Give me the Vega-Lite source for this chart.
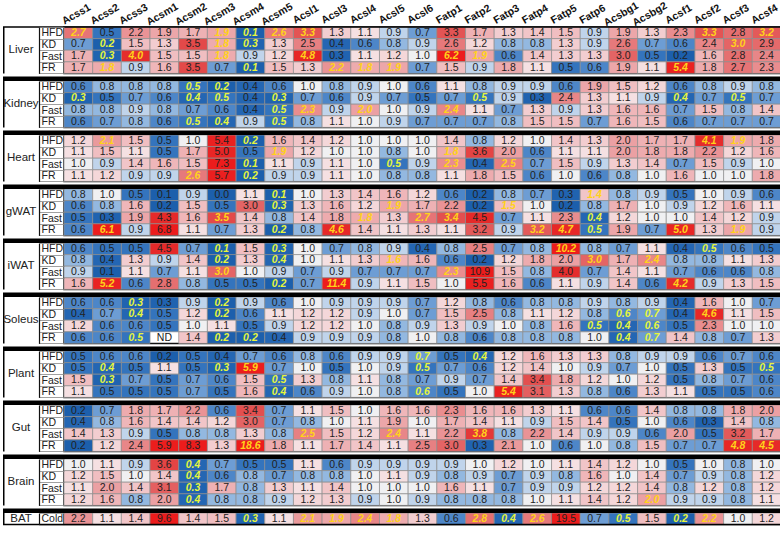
{
"$schema":"https://vega.github.io/schema/vega-lite/v6.json",
"padding":0,
"background":"white",
"data":{"values":[
{"t":"Liver","c":"HFD","g":"Acss1","v":2.7,"s":1},{"t":"Liver","c":"HFD","g":"Acss2","v":0.5},{"t":"Liver","c":"HFD","g":"Acss3","v":2.2},{"t":"Liver","c":"HFD","g":"Acsm1","v":1.9},{"t":"Liver","c":"HFD","g":"Acsm2","v":1.7},{"t":"Liver","c":"HFD","g":"Acsm3","v":1.9,"s":1},{"t":"Liver","c":"HFD","g":"Acsm4","v":0.1,"s":1},{"t":"Liver","c":"HFD","g":"Acsm5","v":2.6,"s":1},{"t":"Liver","c":"HFD","g":"Acsl1","v":3.3,"s":1},{"t":"Liver","c":"HFD","g":"Acsl3","v":1.3},{"t":"Liver","c":"HFD","g":"Acsl4","v":1.1},{"t":"Liver","c":"HFD","g":"Acsl5","v":0.9},{"t":"Liver","c":"HFD","g":"Acsl6","v":0.7},{"t":"Liver","c":"HFD","g":"Fatp1","v":3.3},{"t":"Liver","c":"HFD","g":"Fatp2","v":1.7},{"t":"Liver","c":"HFD","g":"Fatp3","v":1.3},{"t":"Liver","c":"HFD","g":"Fatp4","v":1.4},{"t":"Liver","c":"HFD","g":"Fatp5","v":1.5},{"t":"Liver","c":"HFD","g":"Fatp6","v":0.9},{"t":"Liver","c":"HFD","g":"Acsbg1","v":1.9},{"t":"Liver","c":"HFD","g":"Acsbg2","v":1.3},{"t":"Liver","c":"HFD","g":"Acsf1","v":2.3},{"t":"Liver","c":"HFD","g":"Acsf2","v":3.3,"s":1},{"t":"Liver","c":"HFD","g":"Acsf3","v":2.8},{"t":"Liver","c":"HFD","g":"Acsf4","v":3.2,"s":1},
{"t":"Liver","c":"KD","g":"Acss1","v":0.7},{"t":"Liver","c":"KD","g":"Acss2","v":0.2,"s":1},{"t":"Liver","c":"KD","g":"Acss3","v":1.5},{"t":"Liver","c":"KD","g":"Acsm1","v":1.3},{"t":"Liver","c":"KD","g":"Acsm2","v":3.5},{"t":"Liver","c":"KD","g":"Acsm3","v":1.8,"s":1},{"t":"Liver","c":"KD","g":"Acsm4","v":0.3,"s":1},{"t":"Liver","c":"KD","g":"Acsm5","v":1.3},{"t":"Liver","c":"KD","g":"Acsl1","v":2.5},{"t":"Liver","c":"KD","g":"Acsl3","v":0.4},{"t":"Liver","c":"KD","g":"Acsl4","v":0.6},{"t":"Liver","c":"KD","g":"Acsl5","v":0.8},{"t":"Liver","c":"KD","g":"Acsl6","v":0.9},{"t":"Liver","c":"KD","g":"Fatp1","v":2.6},{"t":"Liver","c":"KD","g":"Fatp2","v":1.2},{"t":"Liver","c":"KD","g":"Fatp3","v":0.8},{"t":"Liver","c":"KD","g":"Fatp4","v":0.8},{"t":"Liver","c":"KD","g":"Fatp5","v":1.3},{"t":"Liver","c":"KD","g":"Fatp6","v":0.9},{"t":"Liver","c":"KD","g":"Acsbg1","v":2.6},{"t":"Liver","c":"KD","g":"Acsbg2","v":0.7},{"t":"Liver","c":"KD","g":"Acsf1","v":0.6},{"t":"Liver","c":"KD","g":"Acsf2","v":2.4},{"t":"Liver","c":"KD","g":"Acsf3","v":3.0,"s":1},{"t":"Liver","c":"KD","g":"Acsf4","v":2.9},
{"t":"Liver","c":"Fast","g":"Acss1","v":1.7},{"t":"Liver","c":"Fast","g":"Acss2","v":0.3,"s":1},{"t":"Liver","c":"Fast","g":"Acss3","v":4.0,"s":1},{"t":"Liver","c":"Fast","g":"Acsm1","v":1.5},{"t":"Liver","c":"Fast","g":"Acsm2","v":1.5},{"t":"Liver","c":"Fast","g":"Acsm3","v":1.8,"s":1},{"t":"Liver","c":"Fast","g":"Acsm4","v":0.9},{"t":"Liver","c":"Fast","g":"Acsm5","v":1.2},{"t":"Liver","c":"Fast","g":"Acsl1","v":4.8,"s":1},{"t":"Liver","c":"Fast","g":"Acsl3","v":0.3},{"t":"Liver","c":"Fast","g":"Acsl4","v":1.1},{"t":"Liver","c":"Fast","g":"Acsl5","v":1.2},{"t":"Liver","c":"Fast","g":"Acsl6","v":1.0},{"t":"Liver","c":"Fast","g":"Fatp1","v":6.2,"s":1},{"t":"Liver","c":"Fast","g":"Fatp2","v":1.9,"s":1},{"t":"Liver","c":"Fast","g":"Fatp3","v":0.6},{"t":"Liver","c":"Fast","g":"Fatp4","v":1.4},{"t":"Liver","c":"Fast","g":"Fatp5","v":1.3},{"t":"Liver","c":"Fast","g":"Fatp6","v":1.3},{"t":"Liver","c":"Fast","g":"Acsbg1","v":3.0},{"t":"Liver","c":"Fast","g":"Acsbg2","v":0.5},{"t":"Liver","c":"Fast","g":"Acsf1","v":0.2},{"t":"Liver","c":"Fast","g":"Acsf2","v":1.6},{"t":"Liver","c":"Fast","g":"Acsf3","v":2.8},{"t":"Liver","c":"Fast","g":"Acsf4","v":2.4},
{"t":"Liver","c":"FR","g":"Acss1","v":1.7},{"t":"Liver","c":"FR","g":"Acss2","v":1.8,"s":1},{"t":"Liver","c":"FR","g":"Acss3","v":0.9},{"t":"Liver","c":"FR","g":"Acsm1","v":1.6},{"t":"Liver","c":"FR","g":"Acsm2","v":3.5},{"t":"Liver","c":"FR","g":"Acsm3","v":0.7},{"t":"Liver","c":"FR","g":"Acsm4","v":0.1,"s":1},{"t":"Liver","c":"FR","g":"Acsm5","v":1.5},{"t":"Liver","c":"FR","g":"Acsl1","v":1.3},{"t":"Liver","c":"FR","g":"Acsl3","v":2.2,"s":1},{"t":"Liver","c":"FR","g":"Acsl4","v":1.8,"s":1},{"t":"Liver","c":"FR","g":"Acsl5","v":1.9,"s":1},{"t":"Liver","c":"FR","g":"Acsl6","v":0.7},{"t":"Liver","c":"FR","g":"Fatp1","v":1.5},{"t":"Liver","c":"FR","g":"Fatp2","v":0.9},{"t":"Liver","c":"FR","g":"Fatp3","v":1.8},{"t":"Liver","c":"FR","g":"Fatp4","v":1.1},{"t":"Liver","c":"FR","g":"Fatp5","v":0.5},{"t":"Liver","c":"FR","g":"Fatp6","v":0.6},{"t":"Liver","c":"FR","g":"Acsbg1","v":1.9},{"t":"Liver","c":"FR","g":"Acsbg2","v":1.1},{"t":"Liver","c":"FR","g":"Acsf1","v":5.4,"s":1},{"t":"Liver","c":"FR","g":"Acsf2","v":1.8},{"t":"Liver","c":"FR","g":"Acsf3","v":2.7},{"t":"Liver","c":"FR","g":"Acsf4","v":2.3},
{"t":"Kidney","c":"HFD","g":"Acss1","v":0.6},{"t":"Kidney","c":"HFD","g":"Acss2","v":0.8},{"t":"Kidney","c":"HFD","g":"Acss3","v":0.8},{"t":"Kidney","c":"HFD","g":"Acsm1","v":0.8},{"t":"Kidney","c":"HFD","g":"Acsm2","v":0.5,"s":1},{"t":"Kidney","c":"HFD","g":"Acsm3","v":0.2,"s":1},{"t":"Kidney","c":"HFD","g":"Acsm4","v":0.4},{"t":"Kidney","c":"HFD","g":"Acsm5","v":0.6},{"t":"Kidney","c":"HFD","g":"Acsl1","v":1.0},{"t":"Kidney","c":"HFD","g":"Acsl3","v":0.8},{"t":"Kidney","c":"HFD","g":"Acsl4","v":0.9},{"t":"Kidney","c":"HFD","g":"Acsl5","v":1.0},{"t":"Kidney","c":"HFD","g":"Acsl6","v":0.6},{"t":"Kidney","c":"HFD","g":"Fatp1","v":1.1},{"t":"Kidney","c":"HFD","g":"Fatp2","v":0.8},{"t":"Kidney","c":"HFD","g":"Fatp3","v":0.9},{"t":"Kidney","c":"HFD","g":"Fatp4","v":0.9},{"t":"Kidney","c":"HFD","g":"Fatp5","v":0.6},{"t":"Kidney","c":"HFD","g":"Fatp6","v":1.9},{"t":"Kidney","c":"HFD","g":"Acsbg1","v":1.5},{"t":"Kidney","c":"HFD","g":"Acsbg2","v":1.2},{"t":"Kidney","c":"HFD","g":"Acsf1","v":0.6},{"t":"Kidney","c":"HFD","g":"Acsf2","v":0.8},{"t":"Kidney","c":"HFD","g":"Acsf3","v":0.9},{"t":"Kidney","c":"HFD","g":"Acsf4","v":0.8},
{"t":"Kidney","c":"KD","g":"Acss1","v":0.3,"s":1},{"t":"Kidney","c":"KD","g":"Acss2","v":0.5},{"t":"Kidney","c":"KD","g":"Acss3","v":0.7},{"t":"Kidney","c":"KD","g":"Acsm1","v":0.6},{"t":"Kidney","c":"KD","g":"Acsm2","v":0.4,"s":1},{"t":"Kidney","c":"KD","g":"Acsm3","v":0.5,"s":1},{"t":"Kidney","c":"KD","g":"Acsm4","v":0.4},{"t":"Kidney","c":"KD","g":"Acsm5","v":0.3,"s":1},{"t":"Kidney","c":"KD","g":"Acsl1","v":0.7},{"t":"Kidney","c":"KD","g":"Acsl3","v":0.6},{"t":"Kidney","c":"KD","g":"Acsl4","v":0.9},{"t":"Kidney","c":"KD","g":"Acsl5","v":0.7},{"t":"Kidney","c":"KD","g":"Acsl6","v":0.5},{"t":"Kidney","c":"KD","g":"Fatp1","v":0.7},{"t":"Kidney","c":"KD","g":"Fatp2","v":0.5,"s":1},{"t":"Kidney","c":"KD","g":"Fatp3","v":0.9},{"t":"Kidney","c":"KD","g":"Fatp4","v":0.3},{"t":"Kidney","c":"KD","g":"Fatp5","v":2.4},{"t":"Kidney","c":"KD","g":"Fatp6","v":1.3},{"t":"Kidney","c":"KD","g":"Acsbg1","v":1.1},{"t":"Kidney","c":"KD","g":"Acsbg2","v":0.9},{"t":"Kidney","c":"KD","g":"Acsf1","v":0.4,"s":1},{"t":"Kidney","c":"KD","g":"Acsf2","v":0.7},{"t":"Kidney","c":"KD","g":"Acsf3","v":0.5,"s":1},{"t":"Kidney","c":"KD","g":"Acsf4","v":0.7},
{"t":"Kidney","c":"Fast","g":"Acss1","v":0.8},{"t":"Kidney","c":"Fast","g":"Acss2","v":0.8},{"t":"Kidney","c":"Fast","g":"Acss3","v":0.9},{"t":"Kidney","c":"Fast","g":"Acsm1","v":0.8},{"t":"Kidney","c":"Fast","g":"Acsm2","v":0.7},{"t":"Kidney","c":"Fast","g":"Acsm3","v":0.6},{"t":"Kidney","c":"Fast","g":"Acsm4","v":0.4},{"t":"Kidney","c":"Fast","g":"Acsm5","v":0.5,"s":1},{"t":"Kidney","c":"Fast","g":"Acsl1","v":2.3,"s":1},{"t":"Kidney","c":"Fast","g":"Acsl3","v":0.9},{"t":"Kidney","c":"Fast","g":"Acsl4","v":2.0,"s":1},{"t":"Kidney","c":"Fast","g":"Acsl5","v":1.0},{"t":"Kidney","c":"Fast","g":"Acsl6","v":0.9},{"t":"Kidney","c":"Fast","g":"Fatp1","v":2.4,"s":1},{"t":"Kidney","c":"Fast","g":"Fatp2","v":1.1},{"t":"Kidney","c":"Fast","g":"Fatp3","v":0.7},{"t":"Kidney","c":"Fast","g":"Fatp4","v":1.3},{"t":"Kidney","c":"Fast","g":"Fatp5","v":0.9},{"t":"Kidney","c":"Fast","g":"Fatp6","v":1.3},{"t":"Kidney","c":"Fast","g":"Acsbg1","v":1.6},{"t":"Kidney","c":"Fast","g":"Acsbg2","v":1.6},{"t":"Kidney","c":"Fast","g":"Acsf1","v":0.7},{"t":"Kidney","c":"Fast","g":"Acsf2","v":1.5},{"t":"Kidney","c":"Fast","g":"Acsf3","v":0.8},{"t":"Kidney","c":"Fast","g":"Acsf4","v":1.4},
{"t":"Kidney","c":"FR","g":"Acss1","v":0.6},{"t":"Kidney","c":"FR","g":"Acss2","v":0.7},{"t":"Kidney","c":"FR","g":"Acss3","v":0.8},{"t":"Kidney","c":"FR","g":"Acsm1","v":0.6},{"t":"Kidney","c":"FR","g":"Acsm2","v":0.5,"s":1},{"t":"Kidney","c":"FR","g":"Acsm3","v":0.4,"s":1},{"t":"Kidney","c":"FR","g":"Acsm4","v":0.9},{"t":"Kidney","c":"FR","g":"Acsm5","v":0.5,"s":1},{"t":"Kidney","c":"FR","g":"Acsl1","v":0.8},{"t":"Kidney","c":"FR","g":"Acsl3","v":1.1},{"t":"Kidney","c":"FR","g":"Acsl4","v":1.0},{"t":"Kidney","c":"FR","g":"Acsl5","v":0.9},{"t":"Kidney","c":"FR","g":"Acsl6","v":0.7},{"t":"Kidney","c":"FR","g":"Fatp1","v":0.7},{"t":"Kidney","c":"FR","g":"Fatp2","v":0.7},{"t":"Kidney","c":"FR","g":"Fatp3","v":0.8},{"t":"Kidney","c":"FR","g":"Fatp4","v":1.5},{"t":"Kidney","c":"FR","g":"Fatp5","v":1.5},{"t":"Kidney","c":"FR","g":"Fatp6","v":0.7},{"t":"Kidney","c":"FR","g":"Acsbg1","v":1.6},{"t":"Kidney","c":"FR","g":"Acsbg2","v":1.5},{"t":"Kidney","c":"FR","g":"Acsf1","v":0.6},{"t":"Kidney","c":"FR","g":"Acsf2","v":0.7},{"t":"Kidney","c":"FR","g":"Acsf3","v":0.7},{"t":"Kidney","c":"FR","g":"Acsf4","v":0.7},
{"t":"Heart","c":"HFD","g":"Acss1","v":1.2},{"t":"Heart","c":"HFD","g":"Acss2","v":2.1,"s":1},{"t":"Heart","c":"HFD","g":"Acss3","v":1.5},{"t":"Heart","c":"HFD","g":"Acsm1","v":0.5},{"t":"Heart","c":"HFD","g":"Acsm2","v":1.0},{"t":"Heart","c":"HFD","g":"Acsm3","v":5.4},{"t":"Heart","c":"HFD","g":"Acsm4","v":0.2,"s":1},{"t":"Heart","c":"HFD","g":"Acsm5","v":1.6},{"t":"Heart","c":"HFD","g":"Acsl1","v":1.4},{"t":"Heart","c":"HFD","g":"Acsl3","v":1.2},{"t":"Heart","c":"HFD","g":"Acsl4","v":1.0},{"t":"Heart","c":"HFD","g":"Acsl5","v":1.0},{"t":"Heart","c":"HFD","g":"Acsl6","v":1.0},{"t":"Heart","c":"HFD","g":"Fatp1","v":1.4},{"t":"Heart","c":"HFD","g":"Fatp2","v":0.8},{"t":"Heart","c":"HFD","g":"Fatp3","v":1.2},{"t":"Heart","c":"HFD","g":"Fatp4","v":1.0},{"t":"Heart","c":"HFD","g":"Fatp5","v":1.4},{"t":"Heart","c":"HFD","g":"Fatp6","v":1.3},{"t":"Heart","c":"HFD","g":"Acsbg1","v":2.0},{"t":"Heart","c":"HFD","g":"Acsbg2","v":1.7},{"t":"Heart","c":"HFD","g":"Acsf1","v":1.7},{"t":"Heart","c":"HFD","g":"Acsf2","v":4.1,"s":1},{"t":"Heart","c":"HFD","g":"Acsf3","v":1.9,"s":1},{"t":"Heart","c":"HFD","g":"Acsf4","v":1.8},
{"t":"Heart","c":"KD","g":"Acss1","v":1.1},{"t":"Heart","c":"KD","g":"Acss2","v":1.5},{"t":"Heart","c":"KD","g":"Acss3","v":1.1},{"t":"Heart","c":"KD","g":"Acsm1","v":0.5},{"t":"Heart","c":"KD","g":"Acsm2","v":1.7},{"t":"Heart","c":"KD","g":"Acsm3","v":5.0},{"t":"Heart","c":"KD","g":"Acsm4","v":0.5},{"t":"Heart","c":"KD","g":"Acsm5","v":1.9,"s":1},{"t":"Heart","c":"KD","g":"Acsl1","v":1.2},{"t":"Heart","c":"KD","g":"Acsl3","v":1.0},{"t":"Heart","c":"KD","g":"Acsl4","v":1.0},{"t":"Heart","c":"KD","g":"Acsl5","v":0.8},{"t":"Heart","c":"KD","g":"Acsl6","v":1.0},{"t":"Heart","c":"KD","g":"Fatp1","v":1.8,"s":1},{"t":"Heart","c":"KD","g":"Fatp2","v":3.6},{"t":"Heart","c":"KD","g":"Fatp3","v":2.0},{"t":"Heart","c":"KD","g":"Fatp4","v":0.6},{"t":"Heart","c":"KD","g":"Fatp5","v":1.1},{"t":"Heart","c":"KD","g":"Fatp6","v":1.1},{"t":"Heart","c":"KD","g":"Acsbg1","v":2.0},{"t":"Heart","c":"KD","g":"Acsbg2","v":1.8},{"t":"Heart","c":"KD","g":"Acsf1","v":1.8},{"t":"Heart","c":"KD","g":"Acsf2","v":2.2},{"t":"Heart","c":"KD","g":"Acsf3","v":1.2},{"t":"Heart","c":"KD","g":"Acsf4","v":1.6},
{"t":"Heart","c":"Fast","g":"Acss1","v":1.0},{"t":"Heart","c":"Fast","g":"Acss2","v":0.9},{"t":"Heart","c":"Fast","g":"Acss3","v":1.4},{"t":"Heart","c":"Fast","g":"Acsm1","v":1.6},{"t":"Heart","c":"Fast","g":"Acsm2","v":1.5},{"t":"Heart","c":"Fast","g":"Acsm3","v":7.3},{"t":"Heart","c":"Fast","g":"Acsm4","v":0.1,"s":1},{"t":"Heart","c":"Fast","g":"Acsm5","v":1.1},{"t":"Heart","c":"Fast","g":"Acsl1","v":0.9},{"t":"Heart","c":"Fast","g":"Acsl3","v":1.1},{"t":"Heart","c":"Fast","g":"Acsl4","v":1.0},{"t":"Heart","c":"Fast","g":"Acsl5","v":0.5,"s":1},{"t":"Heart","c":"Fast","g":"Acsl6","v":0.9},{"t":"Heart","c":"Fast","g":"Fatp1","v":2.3,"s":1},{"t":"Heart","c":"Fast","g":"Fatp2","v":0.4},{"t":"Heart","c":"Fast","g":"Fatp3","v":2.5,"s":1},{"t":"Heart","c":"Fast","g":"Fatp4","v":0.7},{"t":"Heart","c":"Fast","g":"Fatp5","v":1.5},{"t":"Heart","c":"Fast","g":"Fatp6","v":0.9},{"t":"Heart","c":"Fast","g":"Acsbg1","v":1.3},{"t":"Heart","c":"Fast","g":"Acsbg2","v":1.4},{"t":"Heart","c":"Fast","g":"Acsf1","v":0.7},{"t":"Heart","c":"Fast","g":"Acsf2","v":1.5},{"t":"Heart","c":"Fast","g":"Acsf3","v":0.9},{"t":"Heart","c":"Fast","g":"Acsf4","v":1.0},
{"t":"Heart","c":"FR","g":"Acss1","v":1.1},{"t":"Heart","c":"FR","g":"Acss2","v":1.2},{"t":"Heart","c":"FR","g":"Acss3","v":0.9},{"t":"Heart","c":"FR","g":"Acsm1","v":0.9},{"t":"Heart","c":"FR","g":"Acsm2","v":2.6,"s":1},{"t":"Heart","c":"FR","g":"Acsm3","v":5.7},{"t":"Heart","c":"FR","g":"Acsm4","v":0.2,"s":1},{"t":"Heart","c":"FR","g":"Acsm5","v":0.9},{"t":"Heart","c":"FR","g":"Acsl1","v":0.9},{"t":"Heart","c":"FR","g":"Acsl3","v":1.1},{"t":"Heart","c":"FR","g":"Acsl4","v":1.0},{"t":"Heart","c":"FR","g":"Acsl5","v":0.8},{"t":"Heart","c":"FR","g":"Acsl6","v":0.8},{"t":"Heart","c":"FR","g":"Fatp1","v":1.1},{"t":"Heart","c":"FR","g":"Fatp2","v":1.8},{"t":"Heart","c":"FR","g":"Fatp3","v":1.5},{"t":"Heart","c":"FR","g":"Fatp4","v":0.6},{"t":"Heart","c":"FR","g":"Fatp5","v":1.0},{"t":"Heart","c":"FR","g":"Fatp6","v":0.6},{"t":"Heart","c":"FR","g":"Acsbg1","v":0.8},{"t":"Heart","c":"FR","g":"Acsbg2","v":1.0},{"t":"Heart","c":"FR","g":"Acsf1","v":1.6},{"t":"Heart","c":"FR","g":"Acsf2","v":1.0},{"t":"Heart","c":"FR","g":"Acsf3","v":1.0},{"t":"Heart","c":"FR","g":"Acsf4","v":1.8},
{"t":"gWAT","c":"HFD","g":"Acss1","v":0.8},{"t":"gWAT","c":"HFD","g":"Acss2","v":1.0},{"t":"gWAT","c":"HFD","g":"Acss3","v":0.5},{"t":"gWAT","c":"HFD","g":"Acsm1","v":0.1},{"t":"gWAT","c":"HFD","g":"Acsm2","v":0.9},{"t":"gWAT","c":"HFD","g":"Acsm3","v":0.0},{"t":"gWAT","c":"HFD","g":"Acsm4","v":1.1},{"t":"gWAT","c":"HFD","g":"Acsm5","v":0.1,"s":1},{"t":"gWAT","c":"HFD","g":"Acsl1","v":1.0},{"t":"gWAT","c":"HFD","g":"Acsl3","v":1.3},{"t":"gWAT","c":"HFD","g":"Acsl4","v":1.4},{"t":"gWAT","c":"HFD","g":"Acsl5","v":1.6},{"t":"gWAT","c":"HFD","g":"Acsl6","v":1.2},{"t":"gWAT","c":"HFD","g":"Fatp1","v":0.6},{"t":"gWAT","c":"HFD","g":"Fatp2","v":0.2},{"t":"gWAT","c":"HFD","g":"Fatp3","v":0.8},{"t":"gWAT","c":"HFD","g":"Fatp4","v":0.7},{"t":"gWAT","c":"HFD","g":"Fatp5","v":0.3},{"t":"gWAT","c":"HFD","g":"Fatp6","v":1.4,"s":1},{"t":"gWAT","c":"HFD","g":"Acsbg1","v":0.8},{"t":"gWAT","c":"HFD","g":"Acsbg2","v":0.9},{"t":"gWAT","c":"HFD","g":"Acsf1","v":0.5},{"t":"gWAT","c":"HFD","g":"Acsf2","v":1.0},{"t":"gWAT","c":"HFD","g":"Acsf3","v":0.9},{"t":"gWAT","c":"HFD","g":"Acsf4","v":0.6},
{"t":"gWAT","c":"KD","g":"Acss1","v":0.6},{"t":"gWAT","c":"KD","g":"Acss2","v":0.8},{"t":"gWAT","c":"KD","g":"Acss3","v":1.6},{"t":"gWAT","c":"KD","g":"Acsm1","v":0.2},{"t":"gWAT","c":"KD","g":"Acsm2","v":1.5},{"t":"gWAT","c":"KD","g":"Acsm3","v":0.5},{"t":"gWAT","c":"KD","g":"Acsm4","v":3.0},{"t":"gWAT","c":"KD","g":"Acsm5","v":0.3,"s":1},{"t":"gWAT","c":"KD","g":"Acsl1","v":1.3},{"t":"gWAT","c":"KD","g":"Acsl3","v":1.6},{"t":"gWAT","c":"KD","g":"Acsl4","v":1.2},{"t":"gWAT","c":"KD","g":"Acsl5","v":1.9,"s":1},{"t":"gWAT","c":"KD","g":"Acsl6","v":1.7},{"t":"gWAT","c":"KD","g":"Fatp1","v":2.2},{"t":"gWAT","c":"KD","g":"Fatp2","v":0.2},{"t":"gWAT","c":"KD","g":"Fatp3","v":1.5,"s":1},{"t":"gWAT","c":"KD","g":"Fatp4","v":1.0},{"t":"gWAT","c":"KD","g":"Fatp5","v":0.2},{"t":"gWAT","c":"KD","g":"Fatp6","v":0.8},{"t":"gWAT","c":"KD","g":"Acsbg1","v":1.7},{"t":"gWAT","c":"KD","g":"Acsbg2","v":1.0},{"t":"gWAT","c":"KD","g":"Acsf1","v":0.9},{"t":"gWAT","c":"KD","g":"Acsf2","v":1.2},{"t":"gWAT","c":"KD","g":"Acsf3","v":1.6},{"t":"gWAT","c":"KD","g":"Acsf4","v":1.1},
{"t":"gWAT","c":"Fast","g":"Acss1","v":0.5},{"t":"gWAT","c":"Fast","g":"Acss2","v":0.3},{"t":"gWAT","c":"Fast","g":"Acss3","v":1.9},{"t":"gWAT","c":"Fast","g":"Acsm1","v":4.3},{"t":"gWAT","c":"Fast","g":"Acsm2","v":1.6},{"t":"gWAT","c":"Fast","g":"Acsm3","v":3.5,"s":1},{"t":"gWAT","c":"Fast","g":"Acsm4","v":1.4},{"t":"gWAT","c":"Fast","g":"Acsm5","v":0.8},{"t":"gWAT","c":"Fast","g":"Acsl1","v":1.4},{"t":"gWAT","c":"Fast","g":"Acsl3","v":1.8},{"t":"gWAT","c":"Fast","g":"Acsl4","v":1.8,"s":1},{"t":"gWAT","c":"Fast","g":"Acsl5","v":1.3},{"t":"gWAT","c":"Fast","g":"Acsl6","v":2.7,"s":1},{"t":"gWAT","c":"Fast","g":"Fatp1","v":3.4,"s":1},{"t":"gWAT","c":"Fast","g":"Fatp2","v":4.5},{"t":"gWAT","c":"Fast","g":"Fatp3","v":0.7},{"t":"gWAT","c":"Fast","g":"Fatp4","v":1.1},{"t":"gWAT","c":"Fast","g":"Fatp5","v":2.3},{"t":"gWAT","c":"Fast","g":"Fatp6","v":0.4,"s":1},{"t":"gWAT","c":"Fast","g":"Acsbg1","v":1.2},{"t":"gWAT","c":"Fast","g":"Acsbg2","v":1.0},{"t":"gWAT","c":"Fast","g":"Acsf1","v":1.0},{"t":"gWAT","c":"Fast","g":"Acsf2","v":1.4},{"t":"gWAT","c":"Fast","g":"Acsf3","v":1.2},{"t":"gWAT","c":"Fast","g":"Acsf4","v":0.9},
{"t":"gWAT","c":"FR","g":"Acss1","v":0.6},{"t":"gWAT","c":"FR","g":"Acss2","v":6.1,"s":1},{"t":"gWAT","c":"FR","g":"Acss3","v":0.9},{"t":"gWAT","c":"FR","g":"Acsm1","v":6.8},{"t":"gWAT","c":"FR","g":"Acsm2","v":1.1},{"t":"gWAT","c":"FR","g":"Acsm3","v":0.7},{"t":"gWAT","c":"FR","g":"Acsm4","v":1.3},{"t":"gWAT","c":"FR","g":"Acsm5","v":0.2,"s":1},{"t":"gWAT","c":"FR","g":"Acsl1","v":0.8},{"t":"gWAT","c":"FR","g":"Acsl3","v":4.6,"s":1},{"t":"gWAT","c":"FR","g":"Acsl4","v":1.4},{"t":"gWAT","c":"FR","g":"Acsl5","v":1.1},{"t":"gWAT","c":"FR","g":"Acsl6","v":1.3},{"t":"gWAT","c":"FR","g":"Fatp1","v":1.1},{"t":"gWAT","c":"FR","g":"Fatp2","v":3.2},{"t":"gWAT","c":"FR","g":"Fatp3","v":0.9},{"t":"gWAT","c":"FR","g":"Fatp4","v":3.2,"s":1},{"t":"gWAT","c":"FR","g":"Fatp5","v":4.7,"s":1},{"t":"gWAT","c":"FR","g":"Fatp6","v":0.5,"s":1},{"t":"gWAT","c":"FR","g":"Acsbg1","v":1.9},{"t":"gWAT","c":"FR","g":"Acsbg2","v":0.7},{"t":"gWAT","c":"FR","g":"Acsf1","v":5.0,"s":1},{"t":"gWAT","c":"FR","g":"Acsf2","v":1.3},{"t":"gWAT","c":"FR","g":"Acsf3","v":1.9,"s":1},{"t":"gWAT","c":"FR","g":"Acsf4","v":0.9},
{"t":"iWAT","c":"HFD","g":"Acss1","v":0.6},{"t":"iWAT","c":"HFD","g":"Acss2","v":0.5},{"t":"iWAT","c":"HFD","g":"Acss3","v":0.5},{"t":"iWAT","c":"HFD","g":"Acsm1","v":4.5},{"t":"iWAT","c":"HFD","g":"Acsm2","v":0.7},{"t":"iWAT","c":"HFD","g":"Acsm3","v":0.1,"s":1},{"t":"iWAT","c":"HFD","g":"Acsm4","v":1.5},{"t":"iWAT","c":"HFD","g":"Acsm5","v":0.3,"s":1},{"t":"iWAT","c":"HFD","g":"Acsl1","v":1.0},{"t":"iWAT","c":"HFD","g":"Acsl3","v":0.7},{"t":"iWAT","c":"HFD","g":"Acsl4","v":0.8},{"t":"iWAT","c":"HFD","g":"Acsl5","v":0.9},{"t":"iWAT","c":"HFD","g":"Acsl6","v":0.4},{"t":"iWAT","c":"HFD","g":"Fatp1","v":0.8},{"t":"iWAT","c":"HFD","g":"Fatp2","v":2.5},{"t":"iWAT","c":"HFD","g":"Fatp3","v":0.7},{"t":"iWAT","c":"HFD","g":"Fatp4","v":0.8},{"t":"iWAT","c":"HFD","g":"Fatp5","v":10.2,"s":1},{"t":"iWAT","c":"HFD","g":"Fatp6","v":0.8},{"t":"iWAT","c":"HFD","g":"Acsbg1","v":0.7},{"t":"iWAT","c":"HFD","g":"Acsbg2","v":1.1},{"t":"iWAT","c":"HFD","g":"Acsf1","v":0.4},{"t":"iWAT","c":"HFD","g":"Acsf2","v":0.5,"s":1},{"t":"iWAT","c":"HFD","g":"Acsf3","v":0.6},{"t":"iWAT","c":"HFD","g":"Acsf4","v":0.5},
{"t":"iWAT","c":"KD","g":"Acss1","v":0.8},{"t":"iWAT","c":"KD","g":"Acss2","v":0.4},{"t":"iWAT","c":"KD","g":"Acss3","v":1.3},{"t":"iWAT","c":"KD","g":"Acsm1","v":0.9},{"t":"iWAT","c":"KD","g":"Acsm2","v":1.4},{"t":"iWAT","c":"KD","g":"Acsm3","v":0.2,"s":1},{"t":"iWAT","c":"KD","g":"Acsm4","v":1.3},{"t":"iWAT","c":"KD","g":"Acsm5","v":0.4,"s":1},{"t":"iWAT","c":"KD","g":"Acsl1","v":1.0},{"t":"iWAT","c":"KD","g":"Acsl3","v":1.1},{"t":"iWAT","c":"KD","g":"Acsl4","v":1.3},{"t":"iWAT","c":"KD","g":"Acsl5","v":1.6,"s":1},{"t":"iWAT","c":"KD","g":"Acsl6","v":1.6},{"t":"iWAT","c":"KD","g":"Fatp1","v":0.6},{"t":"iWAT","c":"KD","g":"Fatp2","v":0.2},{"t":"iWAT","c":"KD","g":"Fatp3","v":1.2},{"t":"iWAT","c":"KD","g":"Fatp4","v":1.8},{"t":"iWAT","c":"KD","g":"Fatp5","v":2.0},{"t":"iWAT","c":"KD","g":"Fatp6","v":3.0,"s":1},{"t":"iWAT","c":"KD","g":"Acsbg1","v":1.7},{"t":"iWAT","c":"KD","g":"Acsbg2","v":2.4,"s":1},{"t":"iWAT","c":"KD","g":"Acsf1","v":0.8},{"t":"iWAT","c":"KD","g":"Acsf2","v":0.8},{"t":"iWAT","c":"KD","g":"Acsf3","v":1.1},{"t":"iWAT","c":"KD","g":"Acsf4","v":1.3},
{"t":"iWAT","c":"Fast","g":"Acss1","v":0.9},{"t":"iWAT","c":"Fast","g":"Acss2","v":0.1},{"t":"iWAT","c":"Fast","g":"Acss3","v":1.1},{"t":"iWAT","c":"Fast","g":"Acsm1","v":0.7},{"t":"iWAT","c":"Fast","g":"Acsm2","v":1.1},{"t":"iWAT","c":"Fast","g":"Acsm3","v":3.0,"s":1},{"t":"iWAT","c":"Fast","g":"Acsm4","v":1.0},{"t":"iWAT","c":"Fast","g":"Acsm5","v":0.9},{"t":"iWAT","c":"Fast","g":"Acsl1","v":0.7},{"t":"iWAT","c":"Fast","g":"Acsl3","v":0.9},{"t":"iWAT","c":"Fast","g":"Acsl4","v":0.7},{"t":"iWAT","c":"Fast","g":"Acsl5","v":0.7},{"t":"iWAT","c":"Fast","g":"Acsl6","v":0.7},{"t":"iWAT","c":"Fast","g":"Fatp1","v":2.3,"s":1},{"t":"iWAT","c":"Fast","g":"Fatp2","v":10.9},{"t":"iWAT","c":"Fast","g":"Fatp3","v":1.5},{"t":"iWAT","c":"Fast","g":"Fatp4","v":0.8},{"t":"iWAT","c":"Fast","g":"Fatp5","v":4.0},{"t":"iWAT","c":"Fast","g":"Fatp6","v":0.7},{"t":"iWAT","c":"Fast","g":"Acsbg1","v":1.4},{"t":"iWAT","c":"Fast","g":"Acsbg2","v":1.1},{"t":"iWAT","c":"Fast","g":"Acsf1","v":0.7},{"t":"iWAT","c":"Fast","g":"Acsf2","v":0.6},{"t":"iWAT","c":"Fast","g":"Acsf3","v":0.6},{"t":"iWAT","c":"Fast","g":"Acsf4","v":0.8},
{"t":"iWAT","c":"FR","g":"Acss1","v":1.6},{"t":"iWAT","c":"FR","g":"Acss2","v":5.2,"s":1},{"t":"iWAT","c":"FR","g":"Acss3","v":0.6},{"t":"iWAT","c":"FR","g":"Acsm1","v":2.8},{"t":"iWAT","c":"FR","g":"Acsm2","v":0.8},{"t":"iWAT","c":"FR","g":"Acsm3","v":0.5},{"t":"iWAT","c":"FR","g":"Acsm4","v":0.5},{"t":"iWAT","c":"FR","g":"Acsm5","v":0.2,"s":1},{"t":"iWAT","c":"FR","g":"Acsl1","v":0.7},{"t":"iWAT","c":"FR","g":"Acsl3","v":11.4,"s":1},{"t":"iWAT","c":"FR","g":"Acsl4","v":0.9},{"t":"iWAT","c":"FR","g":"Acsl5","v":1.1},{"t":"iWAT","c":"FR","g":"Acsl6","v":1.5},{"t":"iWAT","c":"FR","g":"Fatp1","v":1.0},{"t":"iWAT","c":"FR","g":"Fatp2","v":5.5},{"t":"iWAT","c":"FR","g":"Fatp3","v":1.6},{"t":"iWAT","c":"FR","g":"Fatp4","v":0.6},{"t":"iWAT","c":"FR","g":"Fatp5","v":1.1},{"t":"iWAT","c":"FR","g":"Fatp6","v":0.9},{"t":"iWAT","c":"FR","g":"Acsbg1","v":1.4},{"t":"iWAT","c":"FR","g":"Acsbg2","v":0.6},{"t":"iWAT","c":"FR","g":"Acsf1","v":4.2,"s":1},{"t":"iWAT","c":"FR","g":"Acsf2","v":0.9},{"t":"iWAT","c":"FR","g":"Acsf3","v":1.3},{"t":"iWAT","c":"FR","g":"Acsf4","v":1.5},
{"t":"Soleus","c":"HFD","g":"Acss1","v":0.6},{"t":"Soleus","c":"HFD","g":"Acss2","v":0.6},{"t":"Soleus","c":"HFD","g":"Acss3","v":0.3,"s":1},{"t":"Soleus","c":"HFD","g":"Acsm1","v":0.3},{"t":"Soleus","c":"HFD","g":"Acsm2","v":0.9},{"t":"Soleus","c":"HFD","g":"Acsm3","v":0.2,"s":1},{"t":"Soleus","c":"HFD","g":"Acsm4","v":0.9},{"t":"Soleus","c":"HFD","g":"Acsm5","v":0.6},{"t":"Soleus","c":"HFD","g":"Acsl1","v":1.0},{"t":"Soleus","c":"HFD","g":"Acsl3","v":0.9},{"t":"Soleus","c":"HFD","g":"Acsl4","v":0.9},{"t":"Soleus","c":"HFD","g":"Acsl5","v":0.9},{"t":"Soleus","c":"HFD","g":"Acsl6","v":0.7},{"t":"Soleus","c":"HFD","g":"Fatp1","v":1.2},{"t":"Soleus","c":"HFD","g":"Fatp2","v":0.8},{"t":"Soleus","c":"HFD","g":"Fatp3","v":0.6},{"t":"Soleus","c":"HFD","g":"Fatp4","v":0.8},{"t":"Soleus","c":"HFD","g":"Fatp5","v":0.8},{"t":"Soleus","c":"HFD","g":"Fatp6","v":0.9},{"t":"Soleus","c":"HFD","g":"Acsbg1","v":0.8},{"t":"Soleus","c":"HFD","g":"Acsbg2","v":0.9},{"t":"Soleus","c":"HFD","g":"Acsf1","v":0.4},{"t":"Soleus","c":"HFD","g":"Acsf2","v":1.6},{"t":"Soleus","c":"HFD","g":"Acsf3","v":1.0},{"t":"Soleus","c":"HFD","g":"Acsf4","v":0.7},
{"t":"Soleus","c":"KD","g":"Acss1","v":0.4},{"t":"Soleus","c":"KD","g":"Acss2","v":0.7},{"t":"Soleus","c":"KD","g":"Acss3","v":0.4,"s":1},{"t":"Soleus","c":"KD","g":"Acsm1","v":0.5},{"t":"Soleus","c":"KD","g":"Acsm2","v":1.2},{"t":"Soleus","c":"KD","g":"Acsm3","v":0.2,"s":1},{"t":"Soleus","c":"KD","g":"Acsm4","v":0.6},{"t":"Soleus","c":"KD","g":"Acsm5","v":1.1},{"t":"Soleus","c":"KD","g":"Acsl1","v":1.2},{"t":"Soleus","c":"KD","g":"Acsl3","v":1.2},{"t":"Soleus","c":"KD","g":"Acsl4","v":0.9},{"t":"Soleus","c":"KD","g":"Acsl5","v":1.0},{"t":"Soleus","c":"KD","g":"Acsl6","v":0.7},{"t":"Soleus","c":"KD","g":"Fatp1","v":1.5},{"t":"Soleus","c":"KD","g":"Fatp2","v":2.5},{"t":"Soleus","c":"KD","g":"Fatp3","v":0.8},{"t":"Soleus","c":"KD","g":"Fatp4","v":1.1},{"t":"Soleus","c":"KD","g":"Fatp5","v":1.2},{"t":"Soleus","c":"KD","g":"Fatp6","v":0.8},{"t":"Soleus","c":"KD","g":"Acsbg1","v":0.6,"s":1},{"t":"Soleus","c":"KD","g":"Acsbg2","v":0.7,"s":1},{"t":"Soleus","c":"KD","g":"Acsf1","v":0.4},{"t":"Soleus","c":"KD","g":"Acsf2","v":4.6,"s":1},{"t":"Soleus","c":"KD","g":"Acsf3","v":1.1},{"t":"Soleus","c":"KD","g":"Acsf4","v":1.5},
{"t":"Soleus","c":"Fast","g":"Acss1","v":1.2},{"t":"Soleus","c":"Fast","g":"Acss2","v":0.6},{"t":"Soleus","c":"Fast","g":"Acss3","v":0.6},{"t":"Soleus","c":"Fast","g":"Acsm1","v":0.5},{"t":"Soleus","c":"Fast","g":"Acsm2","v":1.0},{"t":"Soleus","c":"Fast","g":"Acsm3","v":1.1},{"t":"Soleus","c":"Fast","g":"Acsm4","v":0.5},{"t":"Soleus","c":"Fast","g":"Acsm5","v":0.9},{"t":"Soleus","c":"Fast","g":"Acsl1","v":1.2},{"t":"Soleus","c":"Fast","g":"Acsl3","v":1.2},{"t":"Soleus","c":"Fast","g":"Acsl4","v":1.0},{"t":"Soleus","c":"Fast","g":"Acsl5","v":0.8},{"t":"Soleus","c":"Fast","g":"Acsl6","v":0.9},{"t":"Soleus","c":"Fast","g":"Fatp1","v":1.3},{"t":"Soleus","c":"Fast","g":"Fatp2","v":0.9},{"t":"Soleus","c":"Fast","g":"Fatp3","v":1.0},{"t":"Soleus","c":"Fast","g":"Fatp4","v":0.8},{"t":"Soleus","c":"Fast","g":"Fatp5","v":1.6},{"t":"Soleus","c":"Fast","g":"Fatp6","v":0.5,"s":1},{"t":"Soleus","c":"Fast","g":"Acsbg1","v":0.4,"s":1},{"t":"Soleus","c":"Fast","g":"Acsbg2","v":0.6,"s":1},{"t":"Soleus","c":"Fast","g":"Acsf1","v":0.5},{"t":"Soleus","c":"Fast","g":"Acsf2","v":2.3},{"t":"Soleus","c":"Fast","g":"Acsf3","v":1.0},{"t":"Soleus","c":"Fast","g":"Acsf4","v":1.0},
{"t":"Soleus","c":"FR","g":"Acss1","v":0.6},{"t":"Soleus","c":"FR","g":"Acss2","v":0.6},{"t":"Soleus","c":"FR","g":"Acss3","v":0.5,"s":1},{"t":"Soleus","c":"FR","g":"Acsm1","v":null},{"t":"Soleus","c":"FR","g":"Acsm2","v":1.4},{"t":"Soleus","c":"FR","g":"Acsm3","v":0.2,"s":1},{"t":"Soleus","c":"FR","g":"Acsm4","v":0.2,"s":1},{"t":"Soleus","c":"FR","g":"Acsm5","v":0.4},{"t":"Soleus","c":"FR","g":"Acsl1","v":0.9},{"t":"Soleus","c":"FR","g":"Acsl3","v":0.9},{"t":"Soleus","c":"FR","g":"Acsl4","v":0.9},{"t":"Soleus","c":"FR","g":"Acsl5","v":0.8},{"t":"Soleus","c":"FR","g":"Acsl6","v":1.0},{"t":"Soleus","c":"FR","g":"Fatp1","v":0.8},{"t":"Soleus","c":"FR","g":"Fatp2","v":0.6},{"t":"Soleus","c":"FR","g":"Fatp3","v":0.8},{"t":"Soleus","c":"FR","g":"Fatp4","v":0.8},{"t":"Soleus","c":"FR","g":"Fatp5","v":0.8},{"t":"Soleus","c":"FR","g":"Fatp6","v":1.0},{"t":"Soleus","c":"FR","g":"Acsbg1","v":0.4,"s":1},{"t":"Soleus","c":"FR","g":"Acsbg2","v":0.7,"s":1},{"t":"Soleus","c":"FR","g":"Acsf1","v":1.4},{"t":"Soleus","c":"FR","g":"Acsf2","v":0.8},{"t":"Soleus","c":"FR","g":"Acsf3","v":0.7},{"t":"Soleus","c":"FR","g":"Acsf4","v":1.3},
{"t":"Plant","c":"HFD","g":"Acss1","v":0.5},{"t":"Plant","c":"HFD","g":"Acss2","v":0.6},{"t":"Plant","c":"HFD","g":"Acss3","v":0.6},{"t":"Plant","c":"HFD","g":"Acsm1","v":0.2},{"t":"Plant","c":"HFD","g":"Acsm2","v":0.5},{"t":"Plant","c":"HFD","g":"Acsm3","v":0.4},{"t":"Plant","c":"HFD","g":"Acsm4","v":0.7},{"t":"Plant","c":"HFD","g":"Acsm5","v":0.6},{"t":"Plant","c":"HFD","g":"Acsl1","v":0.8},{"t":"Plant","c":"HFD","g":"Acsl3","v":0.6},{"t":"Plant","c":"HFD","g":"Acsl4","v":0.9},{"t":"Plant","c":"HFD","g":"Acsl5","v":0.9},{"t":"Plant","c":"HFD","g":"Acsl6","v":0.7,"s":1},{"t":"Plant","c":"HFD","g":"Fatp1","v":0.5},{"t":"Plant","c":"HFD","g":"Fatp2","v":0.4,"s":1},{"t":"Plant","c":"HFD","g":"Fatp3","v":1.2},{"t":"Plant","c":"HFD","g":"Fatp4","v":1.6},{"t":"Plant","c":"HFD","g":"Fatp5","v":1.3},{"t":"Plant","c":"HFD","g":"Fatp6","v":1.3},{"t":"Plant","c":"HFD","g":"Acsbg1","v":0.8},{"t":"Plant","c":"HFD","g":"Acsbg2","v":0.9},{"t":"Plant","c":"HFD","g":"Acsf1","v":0.9},{"t":"Plant","c":"HFD","g":"Acsf2","v":0.6},{"t":"Plant","c":"HFD","g":"Acsf3","v":0.7},{"t":"Plant","c":"HFD","g":"Acsf4","v":0.6},
{"t":"Plant","c":"KD","g":"Acss1","v":0.5},{"t":"Plant","c":"KD","g":"Acss2","v":0.4,"s":1},{"t":"Plant","c":"KD","g":"Acss3","v":0.5},{"t":"Plant","c":"KD","g":"Acsm1","v":1.1},{"t":"Plant","c":"KD","g":"Acsm2","v":0.5},{"t":"Plant","c":"KD","g":"Acsm3","v":0.3,"s":1},{"t":"Plant","c":"KD","g":"Acsm4","v":5.9,"s":1},{"t":"Plant","c":"KD","g":"Acsm5","v":0.7},{"t":"Plant","c":"KD","g":"Acsl1","v":1.0},{"t":"Plant","c":"KD","g":"Acsl3","v":0.5},{"t":"Plant","c":"KD","g":"Acsl4","v":1.0},{"t":"Plant","c":"KD","g":"Acsl5","v":0.9},{"t":"Plant","c":"KD","g":"Acsl6","v":0.5,"s":1},{"t":"Plant","c":"KD","g":"Fatp1","v":0.7},{"t":"Plant","c":"KD","g":"Fatp2","v":0.6},{"t":"Plant","c":"KD","g":"Fatp3","v":1.2},{"t":"Plant","c":"KD","g":"Fatp4","v":1.4},{"t":"Plant","c":"KD","g":"Fatp5","v":1.0},{"t":"Plant","c":"KD","g":"Fatp6","v":0.9},{"t":"Plant","c":"KD","g":"Acsbg1","v":0.7},{"t":"Plant","c":"KD","g":"Acsbg2","v":1.0},{"t":"Plant","c":"KD","g":"Acsf1","v":0.5},{"t":"Plant","c":"KD","g":"Acsf2","v":1.3},{"t":"Plant","c":"KD","g":"Acsf3","v":0.5},{"t":"Plant","c":"KD","g":"Acsf4","v":0.5,"s":1},
{"t":"Plant","c":"Fast","g":"Acss1","v":1.5},{"t":"Plant","c":"Fast","g":"Acss2","v":0.3,"s":1},{"t":"Plant","c":"Fast","g":"Acss3","v":0.7},{"t":"Plant","c":"Fast","g":"Acsm1","v":0.5},{"t":"Plant","c":"Fast","g":"Acsm2","v":0.7},{"t":"Plant","c":"Fast","g":"Acsm3","v":0.6},{"t":"Plant","c":"Fast","g":"Acsm4","v":1.5},{"t":"Plant","c":"Fast","g":"Acsm5","v":0.5,"s":1},{"t":"Plant","c":"Fast","g":"Acsl1","v":1.3},{"t":"Plant","c":"Fast","g":"Acsl3","v":0.8},{"t":"Plant","c":"Fast","g":"Acsl4","v":1.1},{"t":"Plant","c":"Fast","g":"Acsl5","v":0.8},{"t":"Plant","c":"Fast","g":"Acsl6","v":0.7},{"t":"Plant","c":"Fast","g":"Fatp1","v":0.9},{"t":"Plant","c":"Fast","g":"Fatp2","v":0.7},{"t":"Plant","c":"Fast","g":"Fatp3","v":1.4},{"t":"Plant","c":"Fast","g":"Fatp4","v":3.4},{"t":"Plant","c":"Fast","g":"Fatp5","v":1.8},{"t":"Plant","c":"Fast","g":"Fatp6","v":1.2},{"t":"Plant","c":"Fast","g":"Acsbg1","v":1.0},{"t":"Plant","c":"Fast","g":"Acsbg2","v":1.2},{"t":"Plant","c":"Fast","g":"Acsf1","v":0.5},{"t":"Plant","c":"Fast","g":"Acsf2","v":0.8},{"t":"Plant","c":"Fast","g":"Acsf3","v":0.7},{"t":"Plant","c":"Fast","g":"Acsf4","v":0.6},
{"t":"Plant","c":"FR","g":"Acss1","v":1.1},{"t":"Plant","c":"FR","g":"Acss2","v":0.5},{"t":"Plant","c":"FR","g":"Acss3","v":0.5},{"t":"Plant","c":"FR","g":"Acsm1","v":0.5},{"t":"Plant","c":"FR","g":"Acsm2","v":0.7},{"t":"Plant","c":"FR","g":"Acsm3","v":0.5},{"t":"Plant","c":"FR","g":"Acsm4","v":1.6},{"t":"Plant","c":"FR","g":"Acsm5","v":0.4,"s":1},{"t":"Plant","c":"FR","g":"Acsl1","v":0.6},{"t":"Plant","c":"FR","g":"Acsl3","v":0.9},{"t":"Plant","c":"FR","g":"Acsl4","v":1.0},{"t":"Plant","c":"FR","g":"Acsl5","v":0.8},{"t":"Plant","c":"FR","g":"Acsl6","v":0.6,"s":1},{"t":"Plant","c":"FR","g":"Fatp1","v":0.5},{"t":"Plant","c":"FR","g":"Fatp2","v":1.0},{"t":"Plant","c":"FR","g":"Fatp3","v":5.4,"s":1},{"t":"Plant","c":"FR","g":"Fatp4","v":3.1},{"t":"Plant","c":"FR","g":"Fatp5","v":1.3},{"t":"Plant","c":"FR","g":"Fatp6","v":0.8},{"t":"Plant","c":"FR","g":"Acsbg1","v":0.6},{"t":"Plant","c":"FR","g":"Acsbg2","v":1.3},{"t":"Plant","c":"FR","g":"Acsf1","v":1.1},{"t":"Plant","c":"FR","g":"Acsf2","v":0.5},{"t":"Plant","c":"FR","g":"Acsf3","v":0.5},{"t":"Plant","c":"FR","g":"Acsf4","v":0.6},
{"t":"Gut","c":"HFD","g":"Acss1","v":0.2},{"t":"Gut","c":"HFD","g":"Acss2","v":0.7},{"t":"Gut","c":"HFD","g":"Acss3","v":1.8},{"t":"Gut","c":"HFD","g":"Acsm1","v":1.7},{"t":"Gut","c":"HFD","g":"Acsm2","v":2.2},{"t":"Gut","c":"HFD","g":"Acsm3","v":0.6},{"t":"Gut","c":"HFD","g":"Acsm4","v":3.4},{"t":"Gut","c":"HFD","g":"Acsm5","v":0.7},{"t":"Gut","c":"HFD","g":"Acsl1","v":1.1},{"t":"Gut","c":"HFD","g":"Acsl3","v":1.5},{"t":"Gut","c":"HFD","g":"Acsl4","v":1.0},{"t":"Gut","c":"HFD","g":"Acsl5","v":1.6},{"t":"Gut","c":"HFD","g":"Acsl6","v":1.6},{"t":"Gut","c":"HFD","g":"Fatp1","v":2.3},{"t":"Gut","c":"HFD","g":"Fatp2","v":1.6},{"t":"Gut","c":"HFD","g":"Fatp3","v":1.6},{"t":"Gut","c":"HFD","g":"Fatp4","v":1.3},{"t":"Gut","c":"HFD","g":"Fatp5","v":1.1},{"t":"Gut","c":"HFD","g":"Fatp6","v":0.6},{"t":"Gut","c":"HFD","g":"Acsbg1","v":0.6},{"t":"Gut","c":"HFD","g":"Acsbg2","v":1.4},{"t":"Gut","c":"HFD","g":"Acsf1","v":0.8},{"t":"Gut","c":"HFD","g":"Acsf2","v":0.8},{"t":"Gut","c":"HFD","g":"Acsf3","v":1.8},{"t":"Gut","c":"HFD","g":"Acsf4","v":2.0},
{"t":"Gut","c":"KD","g":"Acss1","v":0.4},{"t":"Gut","c":"KD","g":"Acss2","v":0.8},{"t":"Gut","c":"KD","g":"Acss3","v":1.6},{"t":"Gut","c":"KD","g":"Acsm1","v":1.4},{"t":"Gut","c":"KD","g":"Acsm2","v":1.4},{"t":"Gut","c":"KD","g":"Acsm3","v":1.2},{"t":"Gut","c":"KD","g":"Acsm4","v":3.0},{"t":"Gut","c":"KD","g":"Acsm5","v":0.7},{"t":"Gut","c":"KD","g":"Acsl1","v":0.8},{"t":"Gut","c":"KD","g":"Acsl3","v":1.0},{"t":"Gut","c":"KD","g":"Acsl4","v":1.1},{"t":"Gut","c":"KD","g":"Acsl5","v":1.9},{"t":"Gut","c":"KD","g":"Acsl6","v":1.0},{"t":"Gut","c":"KD","g":"Fatp1","v":1.7},{"t":"Gut","c":"KD","g":"Fatp2","v":1.4},{"t":"Gut","c":"KD","g":"Fatp3","v":1.1},{"t":"Gut","c":"KD","g":"Fatp4","v":0.9},{"t":"Gut","c":"KD","g":"Fatp5","v":1.5},{"t":"Gut","c":"KD","g":"Fatp6","v":1.4},{"t":"Gut","c":"KD","g":"Acsbg1","v":0.5},{"t":"Gut","c":"KD","g":"Acsbg2","v":1.0},{"t":"Gut","c":"KD","g":"Acsf1","v":0.6},{"t":"Gut","c":"KD","g":"Acsf2","v":0.3},{"t":"Gut","c":"KD","g":"Acsf3","v":1.4},{"t":"Gut","c":"KD","g":"Acsf4","v":0.8},
{"t":"Gut","c":"Fast","g":"Acss1","v":1.4},{"t":"Gut","c":"Fast","g":"Acss2","v":1.3},{"t":"Gut","c":"Fast","g":"Acss3","v":0.9},{"t":"Gut","c":"Fast","g":"Acsm1","v":0.5},{"t":"Gut","c":"Fast","g":"Acsm2","v":0.8},{"t":"Gut","c":"Fast","g":"Acsm3","v":0.8},{"t":"Gut","c":"Fast","g":"Acsm4","v":1.3},{"t":"Gut","c":"Fast","g":"Acsm5","v":0.8},{"t":"Gut","c":"Fast","g":"Acsl1","v":2.5,"s":1},{"t":"Gut","c":"Fast","g":"Acsl3","v":1.5},{"t":"Gut","c":"Fast","g":"Acsl4","v":1.2},{"t":"Gut","c":"Fast","g":"Acsl5","v":2.4,"s":1},{"t":"Gut","c":"Fast","g":"Acsl6","v":1.1},{"t":"Gut","c":"Fast","g":"Fatp1","v":2.2},{"t":"Gut","c":"Fast","g":"Fatp2","v":3.8,"s":1},{"t":"Gut","c":"Fast","g":"Fatp3","v":0.8},{"t":"Gut","c":"Fast","g":"Fatp4","v":2.2},{"t":"Gut","c":"Fast","g":"Fatp5","v":1.4},{"t":"Gut","c":"Fast","g":"Fatp6","v":0.9},{"t":"Gut","c":"Fast","g":"Acsbg1","v":0.9},{"t":"Gut","c":"Fast","g":"Acsbg2","v":0.6},{"t":"Gut","c":"Fast","g":"Acsf1","v":2.0},{"t":"Gut","c":"Fast","g":"Acsf2","v":0.5},{"t":"Gut","c":"Fast","g":"Acsf3","v":3.2},{"t":"Gut","c":"Fast","g":"Acsf4","v":1.7},
{"t":"Gut","c":"FR","g":"Acss1","v":0.2},{"t":"Gut","c":"FR","g":"Acss2","v":1.2},{"t":"Gut","c":"FR","g":"Acss3","v":2.4},{"t":"Gut","c":"FR","g":"Acsm1","v":5.9},{"t":"Gut","c":"FR","g":"Acsm2","v":8.3},{"t":"Gut","c":"FR","g":"Acsm3","v":1.3},{"t":"Gut","c":"FR","g":"Acsm4","v":18.6,"s":1},{"t":"Gut","c":"FR","g":"Acsm5","v":1.8},{"t":"Gut","c":"FR","g":"Acsl1","v":1.1},{"t":"Gut","c":"FR","g":"Acsl3","v":1.7},{"t":"Gut","c":"FR","g":"Acsl4","v":1.4},{"t":"Gut","c":"FR","g":"Acsl5","v":1.1},{"t":"Gut","c":"FR","g":"Acsl6","v":2.5},{"t":"Gut","c":"FR","g":"Fatp1","v":3.0},{"t":"Gut","c":"FR","g":"Fatp2","v":0.3},{"t":"Gut","c":"FR","g":"Fatp3","v":2.1},{"t":"Gut","c":"FR","g":"Fatp4","v":1.0},{"t":"Gut","c":"FR","g":"Fatp5","v":0.6},{"t":"Gut","c":"FR","g":"Fatp6","v":1.0},{"t":"Gut","c":"FR","g":"Acsbg1","v":0.8},{"t":"Gut","c":"FR","g":"Acsbg2","v":1.5},{"t":"Gut","c":"FR","g":"Acsf1","v":0.7},{"t":"Gut","c":"FR","g":"Acsf2","v":0.7},{"t":"Gut","c":"FR","g":"Acsf3","v":4.8,"s":1},{"t":"Gut","c":"FR","g":"Acsf4","v":4.5,"s":1},
{"t":"Brain","c":"HFD","g":"Acss1","v":1.0},{"t":"Brain","c":"HFD","g":"Acss2","v":1.1},{"t":"Brain","c":"HFD","g":"Acss3","v":0.9},{"t":"Brain","c":"HFD","g":"Acsm1","v":3.6},{"t":"Brain","c":"HFD","g":"Acsm2","v":0.4,"s":1},{"t":"Brain","c":"HFD","g":"Acsm3","v":0.7},{"t":"Brain","c":"HFD","g":"Acsm4","v":0.5},{"t":"Brain","c":"HFD","g":"Acsm5","v":0.5},{"t":"Brain","c":"HFD","g":"Acsl1","v":1.1},{"t":"Brain","c":"HFD","g":"Acsl3","v":0.6},{"t":"Brain","c":"HFD","g":"Acsl4","v":0.9},{"t":"Brain","c":"HFD","g":"Acsl5","v":0.9},{"t":"Brain","c":"HFD","g":"Acsl6","v":0.9},{"t":"Brain","c":"HFD","g":"Fatp1","v":0.9},{"t":"Brain","c":"HFD","g":"Fatp2","v":1.0},{"t":"Brain","c":"HFD","g":"Fatp3","v":1.2},{"t":"Brain","c":"HFD","g":"Fatp4","v":1.0},{"t":"Brain","c":"HFD","g":"Fatp5","v":1.1},{"t":"Brain","c":"HFD","g":"Fatp6","v":1.4},{"t":"Brain","c":"HFD","g":"Acsbg1","v":1.2},{"t":"Brain","c":"HFD","g":"Acsbg2","v":1.0},{"t":"Brain","c":"HFD","g":"Acsf1","v":0.5},{"t":"Brain","c":"HFD","g":"Acsf2","v":1.0},{"t":"Brain","c":"HFD","g":"Acsf3","v":0.8},{"t":"Brain","c":"HFD","g":"Acsf4","v":1.0},
{"t":"Brain","c":"KD","g":"Acss1","v":1.2},{"t":"Brain","c":"KD","g":"Acss2","v":1.5},{"t":"Brain","c":"KD","g":"Acss3","v":1.0},{"t":"Brain","c":"KD","g":"Acsm1","v":1.4},{"t":"Brain","c":"KD","g":"Acsm2","v":0.4,"s":1},{"t":"Brain","c":"KD","g":"Acsm3","v":0.6},{"t":"Brain","c":"KD","g":"Acsm4","v":0.8},{"t":"Brain","c":"KD","g":"Acsm5","v":0.7},{"t":"Brain","c":"KD","g":"Acsl1","v":0.8},{"t":"Brain","c":"KD","g":"Acsl3","v":0.8},{"t":"Brain","c":"KD","g":"Acsl4","v":1.0},{"t":"Brain","c":"KD","g":"Acsl5","v":1.1},{"t":"Brain","c":"KD","g":"Acsl6","v":0.9},{"t":"Brain","c":"KD","g":"Fatp1","v":0.8},{"t":"Brain","c":"KD","g":"Fatp2","v":0.9},{"t":"Brain","c":"KD","g":"Fatp3","v":0.7},{"t":"Brain","c":"KD","g":"Fatp4","v":0.9},{"t":"Brain","c":"KD","g":"Fatp5","v":0.8},{"t":"Brain","c":"KD","g":"Fatp6","v":1.6},{"t":"Brain","c":"KD","g":"Acsbg1","v":1.0},{"t":"Brain","c":"KD","g":"Acsbg2","v":1.4},{"t":"Brain","c":"KD","g":"Acsf1","v":0.7},{"t":"Brain","c":"KD","g":"Acsf2","v":0.9},{"t":"Brain","c":"KD","g":"Acsf3","v":0.8},{"t":"Brain","c":"KD","g":"Acsf4","v":1.2},
{"t":"Brain","c":"Fast","g":"Acss1","v":1.1},{"t":"Brain","c":"Fast","g":"Acss2","v":2.0},{"t":"Brain","c":"Fast","g":"Acss3","v":1.4},{"t":"Brain","c":"Fast","g":"Acsm1","v":3.1},{"t":"Brain","c":"Fast","g":"Acsm2","v":0.3,"s":1},{"t":"Brain","c":"Fast","g":"Acsm3","v":1.7},{"t":"Brain","c":"Fast","g":"Acsm4","v":0.8},{"t":"Brain","c":"Fast","g":"Acsm5","v":1.3},{"t":"Brain","c":"Fast","g":"Acsl1","v":1.1},{"t":"Brain","c":"Fast","g":"Acsl3","v":1.4},{"t":"Brain","c":"Fast","g":"Acsl4","v":1.0},{"t":"Brain","c":"Fast","g":"Acsl5","v":1.0},{"t":"Brain","c":"Fast","g":"Acsl6","v":1.0},{"t":"Brain","c":"Fast","g":"Fatp1","v":1.6},{"t":"Brain","c":"Fast","g":"Fatp2","v":1.1},{"t":"Brain","c":"Fast","g":"Fatp3","v":0.7},{"t":"Brain","c":"Fast","g":"Fatp4","v":0.9},{"t":"Brain","c":"Fast","g":"Fatp5","v":0.9},{"t":"Brain","c":"Fast","g":"Fatp6","v":1.2},{"t":"Brain","c":"Fast","g":"Acsbg1","v":1.2},{"t":"Brain","c":"Fast","g":"Acsbg2","v":1.4},{"t":"Brain","c":"Fast","g":"Acsf1","v":0.8},{"t":"Brain","c":"Fast","g":"Acsf2","v":1.2},{"t":"Brain","c":"Fast","g":"Acsf3","v":0.8},{"t":"Brain","c":"Fast","g":"Acsf4","v":1.2},
{"t":"Brain","c":"FR","g":"Acss1","v":1.2},{"t":"Brain","c":"FR","g":"Acss2","v":1.6},{"t":"Brain","c":"FR","g":"Acss3","v":0.8},{"t":"Brain","c":"FR","g":"Acsm1","v":2.0},{"t":"Brain","c":"FR","g":"Acsm2","v":0.4,"s":1},{"t":"Brain","c":"FR","g":"Acsm3","v":0.8},{"t":"Brain","c":"FR","g":"Acsm4","v":0.8},{"t":"Brain","c":"FR","g":"Acsm5","v":0.9},{"t":"Brain","c":"FR","g":"Acsl1","v":1.2},{"t":"Brain","c":"FR","g":"Acsl3","v":1.3},{"t":"Brain","c":"FR","g":"Acsl4","v":0.9},{"t":"Brain","c":"FR","g":"Acsl5","v":1.0},{"t":"Brain","c":"FR","g":"Acsl6","v":0.9},{"t":"Brain","c":"FR","g":"Fatp1","v":0.8},{"t":"Brain","c":"FR","g":"Fatp2","v":0.8},{"t":"Brain","c":"FR","g":"Fatp3","v":0.8},{"t":"Brain","c":"FR","g":"Fatp4","v":1.0},{"t":"Brain","c":"FR","g":"Fatp5","v":1.1},{"t":"Brain","c":"FR","g":"Fatp6","v":1.4},{"t":"Brain","c":"FR","g":"Acsbg1","v":1.2},{"t":"Brain","c":"FR","g":"Acsbg2","v":2.0,"s":1},{"t":"Brain","c":"FR","g":"Acsf1","v":0.9},{"t":"Brain","c":"FR","g":"Acsf2","v":0.9},{"t":"Brain","c":"FR","g":"Acsf3","v":0.8},{"t":"Brain","c":"FR","g":"Acsf4","v":1.1},
{"t":"BAT","c":"Cold","g":"Acss1","v":2.2},{"t":"BAT","c":"Cold","g":"Acss2","v":1.1},{"t":"BAT","c":"Cold","g":"Acss3","v":1.4},{"t":"BAT","c":"Cold","g":"Acsm1","v":9.6},{"t":"BAT","c":"Cold","g":"Acsm2","v":1.4},{"t":"BAT","c":"Cold","g":"Acsm3","v":1.5},{"t":"BAT","c":"Cold","g":"Acsm4","v":0.3,"s":1},{"t":"BAT","c":"Cold","g":"Acsm5","v":1.1},{"t":"BAT","c":"Cold","g":"Acsl1","v":2.1,"s":1},{"t":"BAT","c":"Cold","g":"Acsl3","v":1.9,"s":1},{"t":"BAT","c":"Cold","g":"Acsl4","v":2.4,"s":1},{"t":"BAT","c":"Cold","g":"Acsl5","v":1.8,"s":1},{"t":"BAT","c":"Cold","g":"Acsl6","v":1.3},{"t":"BAT","c":"Cold","g":"Fatp1","v":0.6},{"t":"BAT","c":"Cold","g":"Fatp2","v":2.8,"s":1},{"t":"BAT","c":"Cold","g":"Fatp3","v":0.4,"s":1},{"t":"BAT","c":"Cold","g":"Fatp4","v":2.6,"s":1},{"t":"BAT","c":"Cold","g":"Fatp5","v":19.5},{"t":"BAT","c":"Cold","g":"Fatp6","v":0.7},{"t":"BAT","c":"Cold","g":"Acsbg1","v":0.5,"s":1},{"t":"BAT","c":"Cold","g":"Acsbg2","v":1.5},{"t":"BAT","c":"Cold","g":"Acsf1","v":0.2,"s":1},{"t":"BAT","c":"Cold","g":"Acsf2","v":2.2,"s":1},{"t":"BAT","c":"Cold","g":"Acsf3","v":1.0},{"t":"BAT","c":"Cold","g":"Acsf4","v":1.2}
]},
"facet":{"row":{"field":"t","type":"nominal","title":null,
  "sort":["Liver","Kidney","Heart","gWAT","iWAT","Soleus","Plant","Gut","Brain","BAT"],
  "header":{"labels":false}}},
"spacing":0,
"resolve":{"scale":{"y":"independent"},"axis":{"y":"independent"}},
"spec":{
  "width":{"step":28.68},
  "height":{"step":11.6},
  "layer":[
    {"mark":{"type":"rect","stroke":"#8c8c8c","strokeWidth":0.7},
     "encoding":{
       "x":{"field":"g","type":"nominal","sort":["Acss1","Acss2","Acss3","Acsm1","Acsm2","Acsm3","Acsm4","Acsm5","Acsl1","Acsl3","Acsl4","Acsl5","Acsl6","Fatp1","Fatp2","Fatp3","Fatp4","Fatp5","Fatp6","Acsbg1","Acsbg2","Acsf1","Acsf2","Acsf3","Acsf4"],
            "scale":{"paddingInner":0,"paddingOuter":0},
            "axis":{"orient":"top","title":null,"labelAngle":-30,"labelAlign":"center","labelBaseline":"middle","labelPadding":7,"labelOffset":-2,"labelFont":"Liberation Sans","labelFontWeight":"bold","labelFontSize":10.5,"labelColor":"#111","ticks":false,"domain":false}},
       "y":{"field":"c","type":"nominal","sort":["HFD","KD","Fast","FR","Cold"],
            "scale":{"paddingInner":0,"paddingOuter":0},
            "axis":{"orient":"left","title":null,"offset":25,"tickSize":-25,"tickBand":"extent","tickColor":"#888","tickWidth":0.8,"domainColor":"#111","domainWidth":1.2,"labelAlign":"left","labelPadding":23,"labelFont":"Liberation Sans","labelFontSize":10.5,"labelColor":"#222","labelBaseline":"middle"}},
       "color":{"condition":{"test":"datum.v == null","value":"white"},"field":"v","type":"quantitative","legend":null,
            "scale":{"type":"linear","clamp":true,"interpolate":"rgb",
              "domain":[0.2,0.4,0.5,0.6,0.7,0.8,0.9,1.0,1.1,1.3,1.6,2.0,2.6,3.2,4.0,6.0],
              "range":["#1c5fac","#2466b3","#3474bd","#4d86c8","#6d9dd4","#93b8e0","#c0d4eb","#f0f0f2","#f5e0e2","#f2cdd0","#efb6b9","#eba0a3","#e6797b","#e35a5a","#e42d2d","#ec1c1c"]}}
     }},
    {"transform":[{"filter":"!datum.s"}],
     "mark":{"type":"text","font":"Liberation Sans","fontSize":10.5,"color":"#222"},
     "encoding":{
       "x":{"field":"g","type":"nominal","sort":["Acss1","Acss2","Acss3","Acsm1","Acsm2","Acsm3","Acsm4","Acsm5","Acsl1","Acsl3","Acsl4","Acsl5","Acsl6","Fatp1","Fatp2","Fatp3","Fatp4","Fatp5","Fatp6","Acsbg1","Acsbg2","Acsf1","Acsf2","Acsf3","Acsf4"]},
       "y":{"field":"c","type":"nominal","sort":["HFD","KD","Fast","FR","Cold"]},
       "text":{"condition":{"test":"datum.v == null","value":"ND"},"field":"v","type":"quantitative","format":".1f"}
     }},
    {"transform":[{"filter":"datum.s"}],
     "mark":{"type":"text","font":"Liberation Sans","fontSize":10.5,"fontWeight":"bold","fontStyle":"italic"},
     "encoding":{
       "x":{"field":"g","type":"nominal","sort":["Acss1","Acss2","Acss3","Acsm1","Acsm2","Acsm3","Acsm4","Acsm5","Acsl1","Acsl3","Acsl4","Acsl5","Acsl6","Fatp1","Fatp2","Fatp3","Fatp4","Fatp5","Fatp6","Acsbg1","Acsbg2","Acsf1","Acsf2","Acsf3","Acsf4"]},
       "y":{"field":"c","type":"nominal","sort":["HFD","KD","Fast","FR","Cold"]},
       "text":{"field":"v","type":"quantitative","format":".1f"},
       "color":{"condition":{"test":"datum.v >= 1","value":"#ffd21a"},"value":"#e6f53c"}
     }},
    {"transform":[{"filter":"datum.g == 'Acss1' && datum.c == 'KD'"}],
     "mark":{"type":"text","font":"Liberation Sans","fontSize":11.5,"color":"#222","align":"center","baseline":"middle"},
     "encoding":{"text":{"field":"t"},"x":{"value":-43},"y":{"field":"c","type":"nominal","sort":["HFD","KD","Fast","FR","Cold"],"bandPosition":1}}},
    {"transform":[{"filter":"datum.g == 'Acss1' && datum.c == 'Cold'"}],
     "mark":{"type":"text","font":"Liberation Sans","fontSize":11.5,"color":"#222","align":"center","baseline":"middle"},
     "encoding":{"text":{"field":"t"},"x":{"value":-43},"y":{"field":"c","type":"nominal","sort":["HFD","KD","Fast","FR","Cold"],"bandPosition":0.5}}},
    {"transform":[{"filter":"datum.g == 'Acss1' && (datum.c == 'HFD' || datum.c == 'Cold') && datum.t != 'Liver'"}],
     "mark":{"type":"rule","color":"#000","strokeWidth":4.5},
     "encoding":{"x":{"value":-61},"x2":{"value":"width"},"y":{"value":-2.25}}},
    {"transform":[{"filter":"datum.g == 'Acss1' && (datum.c == 'HFD' || datum.c == 'Cold')"}],
     "mark":{"type":"rule","color":"#000","strokeWidth":1.5},
     "encoding":{"x":{"value":-60.25},"y":{"value":0},"y2":{"value":"height"}}},
    {"transform":[{"filter":"datum.g == 'Acss1' && datum.c == 'HFD' && datum.t == 'Liver'"}],
     "mark":{"type":"rule","color":"#000","strokeWidth":1.5},
     "encoding":{"x":{"value":-61},"x2":{"value":"width"},"y":{"value":0}}},
    {"transform":[{"filter":"datum.c == 'Cold' && datum.g == 'Acss1'"}],
     "mark":{"type":"rule","color":"#000","strokeWidth":1.5},
     "encoding":{"x":{"value":-61},"x2":{"value":"width"},"y":{"value":"height"}}}
  ]
},
"config":{"view":{"stroke":"#111","strokeWidth":1.5},"font":"Liberation Sans"}
}
